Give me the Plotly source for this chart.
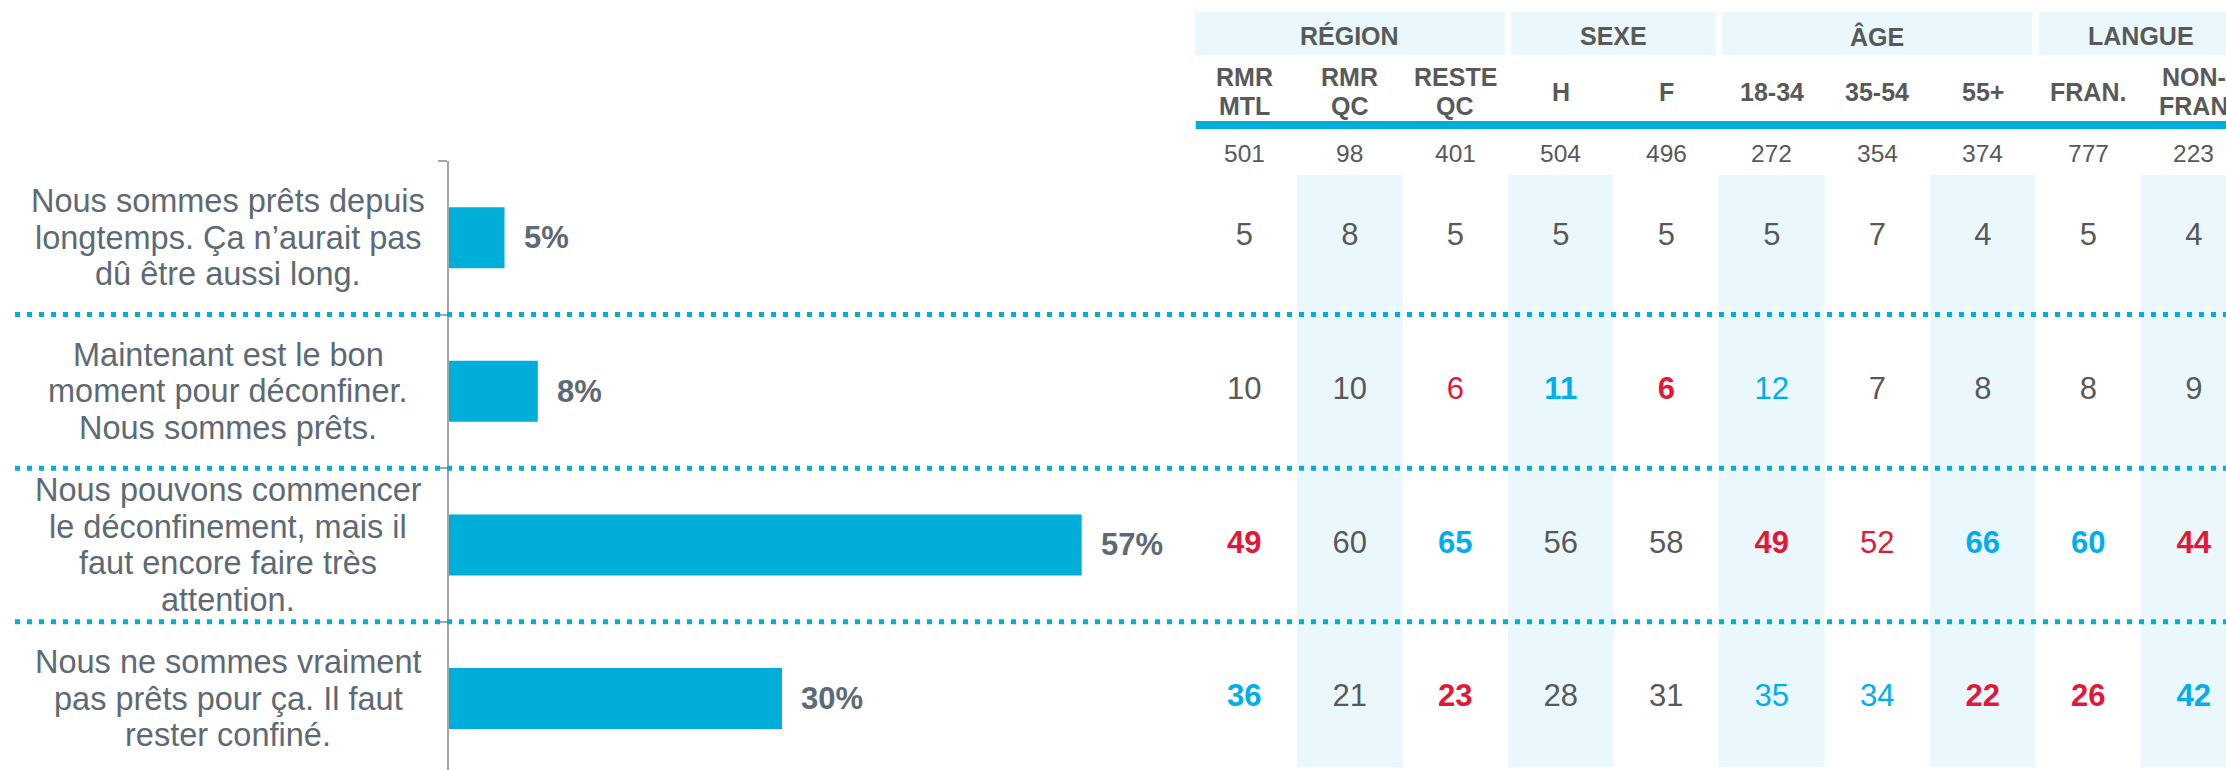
import plotly.graph_objects as go

# ---------------- data ----------------
row_labels = [
    "Nous sommes prêts depuis<br>longtemps. Ça n’aurait pas<br>dû être aussi long.",
    "Maintenant est le bon<br>moment pour déconfiner.<br>Nous sommes prêts.",
    "Nous pouvons commencer<br>le déconfinement, mais il<br>faut encore faire très<br>attention.",
    "Nous ne sommes vraiment<br>pas prêts pour ça. Il faut<br>rester confiné.",
]
totals = [5, 8, 57, 30]

groups = ["RÉGION", "SEXE", "ÂGE", "LANGUE"]
group_spans = [3, 2, 3, 2]
columns = ["RMR<br>MTL", "RMR<br>QC", "RESTE<br>QC", "H", "F",
           "18-34", "35-54", "55+", "FRAN.", "NON-<br>FRAN"]
base_n = [501, 98, 401, 504, 496, 272, 354, 374, 777, 223]

table_values = [
    [5, 8, 5, 5, 5, 5, 7, 4, 5, 4],
    [10, 10, 6, 11, 6, 12, 7, 8, 8, 9],
    [49, 60, 65, 56, 58, 49, 52, 66, 60, 44],
    [36, 21, 23, 28, 31, 35, 34, 22, 26, 42],
]
# significance: "" none, "H" higher (bold), "h" higher, "L" lower (bold), "l" lower
table_sig = [
    ["", "", "", "", "", "", "", "", "", ""],
    ["", "", "l", "H", "L", "h", "", "", "", ""],
    ["L", "", "H", "", "", "L", "l", "H", "H", "L"],
    ["H", "", "L", "", "", "h", "h", "L", "L", "H"],
]

# ---------------- style ----------------
W, H = 2226, 770
FONT = "Arial, Liberation Sans, sans-serif"
BAR_COLOR = "#00AEDA"
DOT_COLOR = "#00B0DA"
SHADE = "#EAF8FD"
LABEL_COLOR = "#5D6A75"
GRAY = "#595959"
RED = "#E31837"
BLUE = "#00AEEF"
AXIS_COLOR = "#A6A6A6"

def py(p):
    return 1 - p / H

sig_color = {"": GRAY, "H": BLUE, "h": BLUE, "L": RED, "l": RED}
sig_bold = {"": False, "H": True, "h": False, "L": True, "l": False}

fig = go.Figure()

# bars
rows = list(range(len(totals)))
fig.add_trace(go.Bar(
    x=totals, y=rows, orientation="h", width=0.397,
    marker=dict(color=BAR_COLOR, line=dict(width=0)),
    xaxis="x", yaxis="y", hoverinfo="skip", showlegend=False,
))

# table numbers
tx, ty, tt, tc = [], [], [], []
for r, (vals, sigs) in enumerate(zip(table_values, table_sig)):
    for c, (v, s) in enumerate(zip(vals, sigs)):
        tx.append(c)
        ty.append(r)
        tt.append(f"<b>{v}</b>" if sig_bold[s] else str(v))
        tc.append(sig_color[s])
fig.add_trace(go.Scatter(
    x=tx, y=ty, text=tt, mode="text", xaxis="x2", yaxis="y",
    textfont=dict(family=FONT, size=31, color=tc),
    textposition="middle center", cliponaxis=False,
    hoverinfo="skip", showlegend=False,
))

shapes = []
annotations = []

# shaded columns
for c in range(len(columns)):
    if c % 2 == 1:
        shapes.append(dict(type="rect", xref="x2", yref="paper",
                           x0=c - 0.5, x1=c + 0.5, y0=py(767), y1=py(175),
                           fillcolor=SHADE, line=dict(width=0), layer="below"))

# group bands + labels
start = 0
for g, span in zip(groups, group_spans):
    shapes.append(dict(type="rect", xref="x2", yref="paper",
                       x0=start - 0.5 + 0.03, x1=start + span - 0.5 - 0.03,
                       y0=py(55), y1=py(12),
                       fillcolor=SHADE, line=dict(width=0), layer="below"))
    annotations.append(dict(xref="x2", yref="paper", x=start + (span - 1) / 2,
                            y=py(36), text=f"<b>{g}</b>", showarrow=False,
                            xanchor="center", yanchor="middle",
                            font=dict(family=FONT, size=25, color=GRAY)))
    start += span

# column headers
for c, col in enumerate(columns):
    lines = col.split("<br>")
    n = len(lines)
    for i, ln in enumerate(lines):
        annotations.append(dict(xref="x2", yref="paper", x=c,
                                y=py(91.5 + (i - (n - 1) / 2) * 29.5),
                                text=f"<b>{ln}</b>", showarrow=False,
                                xanchor="center", yanchor="middle",
                                font=dict(family=FONT, size=25, color=GRAY)))
    annotations.append(dict(xref="x2", yref="paper", x=c, y=py(153),
                            text=str(base_n[c]), showarrow=False,
                            xanchor="center", yanchor="middle",
                            font=dict(family=FONT, size=24.5, color=GRAY)))

# thick blue line under headers
shapes.append(dict(type="line", xref="x2", yref="paper",
                   x0=-0.5 + 0.04, x1=9.4, y0=py(125), y1=py(125),
                   line=dict(color=BAR_COLOR, width=8), layer="above"))

# dotted separators
for r in range(len(totals) - 1):
    shapes.append(dict(type="line", xref="paper", yref="y",
                       x0=15 / W, x1=1, y0=r + 0.5, y1=r + 0.5,
                       line=dict(color=DOT_COLOR, width=5, dash="5px,7px"),
                       layer="above"))

# row labels
for r, lab in enumerate(row_labels):
    lines = lab.split("<br>")
    n = len(lines)
    for i, ln in enumerate(lines):
        annotations.append(dict(xref="paper", yref="y", x=228 / W, y=r,
                                yshift=-(i - (n - 1) / 2) * 36.5,
                                text=ln, showarrow=False,
                                xanchor="center", yanchor="middle",
                                font=dict(family=FONT, size=32.5, color=LABEL_COLOR)))

# bar value labels
for r, v in enumerate(totals):
    annotations.append(dict(xref="x", yref="y", x=v, y=r, xshift=17,
                            text=f"<b>{v}%</b>", showarrow=False,
                            xanchor="left", yanchor="middle",
                            font=dict(family=FONT, size=31, color=LABEL_COLOR)))

px_per_pct = 11.1
fig.update_layout(
    width=W, height=H,
    margin=dict(l=0, r=0, t=0, b=0),
    paper_bgcolor="white", plot_bgcolor="rgba(0,0,0,0)",
    showlegend=False,
    xaxis=dict(domain=[449 / W, 1180 / W], range=[0, (1180 - 449) / px_per_pct],
               visible=False, fixedrange=True),
    xaxis2=dict(domain=[1191.5 / W, 1], range=[-0.5, -0.5 + (W - 1191.5) / 105.5],
                anchor="y", visible=False, fixedrange=True),
    yaxis=dict(domain=[0, 1 - 160.6 / H], range=[3.465, -0.502],
               tickvals=[-0.5, 0.5, 1.5, 2.5], ticks="outside", ticklen=9,
               tickwidth=2, tickcolor=AXIS_COLOR, showticklabels=False,
               showline=True, linecolor=AXIS_COLOR, linewidth=2,
               showgrid=False, zeroline=False, fixedrange=True),
    shapes=shapes,
    annotations=annotations,
    font=dict(family=FONT),
)

fig.write_html(
    "out.html",
    config={"displayModeBar": False},
    post_script="document.body.style.margin='0';document.body.style.overflow='hidden';",
)
